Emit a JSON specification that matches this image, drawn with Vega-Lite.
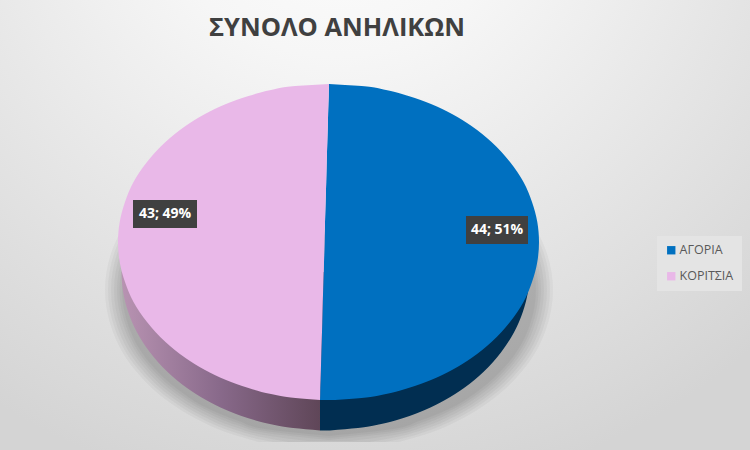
{
"$schema":"https://vega.github.io/schema/vega-lite/v6.json",
"width":750,"height":450,"padding":0,"autosize":{"type":"none"},
"background":"#e0e0e0",
"title":{"text":"ΣΥΝΟΛΟ ΑΝΗΛΙΚΩΝ","font":"Open Sans","fontSize":25.5,"fontWeight":700,"color":"#404040","anchor":"middle","dx":-38,"offset":-41},
"config":{"view":{"stroke":null}},
"datasets":{
"canvas":[{"x0":0,"x1":750,"y0":0,"y1":450}],
"shadow":[
{"ring":1,"y":230,"l":121.4,"r":536.6},{"ring":1,"y":250,"l":112.2,"r":545.8},{"ring":1,"y":290,"l":105,"r":553},{"ring":1,"y":330,"l":112.2,"r":545.8},{"ring":1,"y":370,"l":135,"r":523},{"ring":1,"y":402,"l":169,"r":489},{"ring":1,"y":418,"l":194.6,"r":463.4},{"ring":1,"y":434,"l":231.3,"r":426.7},{"ring":1,"y":442,"l":259,"r":399},
{"ring":1.5,"y":231,"l":124.2,"r":533.8},{"ring":1.5,"y":250.5,"l":115.1,"r":542.9},{"ring":1.5,"y":290,"l":108,"r":550},{"ring":1.5,"y":329.5,"l":115.1,"r":542.9},{"ring":1.5,"y":368.7,"l":137.6,"r":520.4},{"ring":1.5,"y":400,"l":171,"r":486.9},{"ring":1.5,"y":416,"l":196.4,"r":461.6},{"ring":1.5,"y":431.7,"l":232.6,"r":425.4},{"ring":1.5,"y":439.5,"l":260,"r":398},{"ring":1.5,"y":442,"l":273,"r":385},
{"ring":2,"y":232,"l":127,"r":531},{"ring":2,"y":251,"l":118,"r":540},{"ring":2,"y":290,"l":111,"r":547},{"ring":2,"y":329,"l":118,"r":540},{"ring":2,"y":367.5,"l":140.2,"r":517.8},{"ring":2,"y":398.5,"l":173.3,"r":484.7},{"ring":2,"y":414,"l":198.2,"r":459.8},{"ring":2,"y":429.5,"l":234,"r":424},{"ring":2,"y":437,"l":261,"r":397},{"ring":2,"y":442,"l":288,"r":370},
{"ring":2.5,"y":233,"l":129.7,"r":528.3},{"ring":2.5,"y":251.7,"l":121,"r":537},{"ring":2.5,"y":290,"l":114,"r":544},{"ring":2.5,"y":328.2,"l":121,"r":537},{"ring":2.5,"y":366,"l":142.8,"r":515.2},{"ring":2.5,"y":396.7,"l":175.4,"r":482.6},{"ring":2.5,"y":412,"l":200,"r":458},{"ring":2.5,"y":427.2,"l":235.3,"r":422.7},{"ring":2.5,"y":434.7,"l":262,"r":396},{"ring":2.5,"y":441,"l":308,"r":350},
{"ring":3,"y":234,"l":132.5,"r":525.5},{"ring":3,"y":252.5,"l":124,"r":534},{"ring":3,"y":290,"l":117,"r":541},{"ring":3,"y":327.5,"l":124,"r":534},{"ring":3,"y":365,"l":145.4,"r":512.6},{"ring":3,"y":395,"l":177.6,"r":480.4},{"ring":3,"y":410,"l":201.8,"r":456.2},{"ring":3,"y":425,"l":236.6,"r":421.4},{"ring":3,"y":432.5,"l":263,"r":395},{"ring":3,"y":440,"l":329,"r":329},
{"ring":3.5,"y":234.5,"l":134.7,"r":523.3},{"ring":3.5,"y":253,"l":126.3,"r":531.7},{"ring":3.5,"y":290,"l":119.5,"r":538.5},{"ring":3.5,"y":327,"l":126.3,"r":531.7},{"ring":3.5,"y":364,"l":147.5,"r":510.5},{"ring":3.5,"y":393.5,"l":179.4,"r":478.6},{"ring":3.5,"y":408.5,"l":203.3,"r":454.7},{"ring":3.5,"y":423,"l":237.6,"r":420.4},{"ring":3.5,"y":430.7,"l":263.7,"r":394.3},{"ring":3.5,"y":438,"l":329,"r":329},
{"ring":4,"y":235,"l":137,"r":521},{"ring":4,"y":253.5,"l":128.6,"r":529.4},{"ring":4,"y":290,"l":122,"r":536},{"ring":4,"y":326.5,"l":128.6,"r":529.4},{"ring":4,"y":363,"l":149.7,"r":508.3},{"ring":4,"y":392,"l":181.2,"r":476.8},{"ring":4,"y":407,"l":204.8,"r":453.2},{"ring":4,"y":421,"l":238.7,"r":419.3},{"ring":4,"y":429,"l":264.4,"r":393.6},{"ring":4,"y":436,"l":329,"r":329}
],
"side":[
{"y":272,"l":121.5,"m":320,"r":529.5},{"y":292,"l":123.1,"m":320,"r":527.9},{"y":312,"l":128.2,"m":320,"r":522.8},{"y":332,"l":136.8,"m":320,"r":514.2},{"y":352,"l":149.7,"m":320,"r":501.3},{"y":372,"l":167.6,"m":320,"r":483.4},{"y":388,"l":187,"m":320,"r":464},{"y":400,"l":206,"m":320,"r":445},{"y":410,"l":226.2,"m":320,"r":424.8},{"y":418,"l":247.6,"m":320,"r":403.4},{"y":424,"l":269.8,"m":320,"r":381.2},{"y":428,"l":293.1,"m":320,"r":357.9},{"y":430.5,"l":320,"m":320,"r":330}
],
"face":[
{"y":84,"l":329,"m":329,"r":329},{"y":85,"l":312,"m":329,"r":345},{"y":86,"l":295.5,"m":329,"r":361.5},{"y":90,"l":271,"m":328.8,"r":386},{"y":96,"l":248.5,"m":328.7,"r":408.5},{"y":104,"l":226,"m":328.4,"r":431},{"y":114,"l":205,"m":328.1,"r":452},{"y":126,"l":185.5,"m":327.8,"r":471.5},{"y":142,"l":165.5,"m":327.3,"r":491.5},{"y":162,"l":147,"m":326.7,"r":510},{"y":182,"l":133.5,"m":326.2,"r":523.5},{"y":202,"l":125,"m":325.6,"r":532},{"y":222,"l":119.7,"m":325,"r":537.3},{"y":242,"l":118,"m":324.5,"r":539},{"y":262,"l":119.7,"m":324,"r":537.3},{"y":282,"l":125,"m":323.4,"r":532},{"y":302,"l":133.5,"m":322.8,"r":523.5},{"y":322,"l":147,"m":322.3,"r":510},{"y":342,"l":165.5,"m":321.7,"r":491.5},{"y":358,"l":185.5,"m":321.2,"r":471.5},{"y":370,"l":205,"m":320.9,"r":452},{"y":380,"l":226,"m":320.6,"r":431},{"y":388,"l":248.5,"m":320.3,"r":408.5},{"y":394,"l":271,"m":320.2,"r":386},{"y":398,"l":295.5,"m":320.1,"r":361.5},{"y":400,"l":320,"m":320,"r":335}
],
"labels":[
{"series":"ΑΓΟΡΙΑ","count":44,"share":51,"label":"44; 51%","x0":466,"x1":528,"y0":216,"y1":244,"xc":497,"yc":230},
{"series":"ΚΟΡΙΤΣΙΑ","count":43,"share":49,"label":"43; 49%","x0":133,"x1":197,"y0":200,"y1":228,"xc":165,"yc":214}
]
},
"encoding":{},
"layer":[
{"data":{"name":"canvas"},
 "mark":{"type":"rect","color":{"gradient":"radial","x1":0.45,"y1":0.02,"r1":0,"x2":0.45,"y2":0.02,"r2":0.85,"stops":[{"offset":0,"color":"#ffffff"},{"offset":0.3,"color":"#f6f6f6"},{"offset":1,"color":"#d4d4d4"}]}},
 "encoding":{"x":{"field":"x0","type":"quantitative","scale":{"domain":[0,750],"nice":false},"axis":null},"x2":{"field":"x1"},"y":{"field":"y0","type":"quantitative","scale":{"domain":[0,450],"reverse":true,"nice":false},"axis":null},"y2":{"field":"y1"}}},
{"data":{"name":"shadow"},
 "mark":{"type":"area","orient":"horizontal","color":"#000000","opacity":0.035,"interpolate":"monotone"},
 "encoding":{"y":{"field":"y","type":"quantitative"},"x":{"field":"l","type":"quantitative"},"x2":{"field":"r"},"detail":{"field":"ring"}}},
{"data":{"name":"side"},
 "mark":{"type":"area","orient":"horizontal","interpolate":"monotone","color":{"gradient":"linear","x1":0,"y1":0,"x2":1,"y2":0,"stops":[{"offset":0,"color":"#b893b2"},{"offset":0.5,"color":"#88698a"},{"offset":1,"color":"#5f4658"}]}},
 "encoding":{"y":{"field":"y","type":"quantitative"},"x":{"field":"l","type":"quantitative"},"x2":{"field":"m"}}},
{"data":{"name":"side"},
 "mark":{"type":"area","orient":"horizontal","interpolate":"monotone","color":"#012e51"},
 "encoding":{"y":{"field":"y","type":"quantitative"},"x":{"field":"m","type":"quantitative"},"x2":{"field":"r"}}},
{"data":{"name":"face"},
 "mark":{"type":"area","orient":"horizontal","interpolate":"monotone"},
 "encoding":{"y":{"field":"y","type":"quantitative"},"x":{"field":"m","type":"quantitative"},"x2":{"field":"r"},
  "color":{"datum":"ΑΓΟΡΙΑ","type":"nominal","scale":{"domain":["ΑΓΟΡΙΑ","ΚΟΡΙΤΣΙΑ"],"range":["#0070c0","#e9b8e8"]},
   "legend":{"title":null,"orient":"none","legendX":657,"legendY":236,"fillColor":"#e4e4e4","padding":8,"symbolType":"square","symbolSize":70,"symbolStrokeWidth":0,"labelFont":"Open Sans","labelFontSize":12.5,"labelColor":"#595959","rowPadding":13,"labelOffset":2}}}},
{"data":{"name":"face"},
 "mark":{"type":"area","orient":"horizontal","interpolate":"monotone"},
 "encoding":{"y":{"field":"y","type":"quantitative"},"x":{"field":"l","type":"quantitative"},"x2":{"field":"m"},
  "color":{"datum":"ΚΟΡΙΤΣΙΑ","type":"nominal"}}},
{"data":{"name":"labels"},
 "mark":{"type":"rect","color":"#000000","opacity":0.22},
 "encoding":{"x":{"field":"x0","type":"quantitative"},"x2":{"field":"x1"},"y":{"field":"y0","type":"quantitative"},"y2":{"field":"y1"},"xOffset":{"value":3},"yOffset":{"value":3}}},
{"data":{"name":"labels"},
 "mark":{"type":"rect","color":"#404040"},
 "encoding":{"x":{"field":"x0","type":"quantitative"},"x2":{"field":"x1"},"y":{"field":"y0","type":"quantitative"},"y2":{"field":"y1"}}},
{"data":{"name":"labels"},
 "mark":{"type":"text","font":"Open Sans","fontSize":14,"fontWeight":700,"color":"#ffffff","align":"center","baseline":"middle"},
 "encoding":{"x":{"field":"xc","type":"quantitative"},"y":{"field":"yc","type":"quantitative"},"text":{"field":"label"}}}
]
}
